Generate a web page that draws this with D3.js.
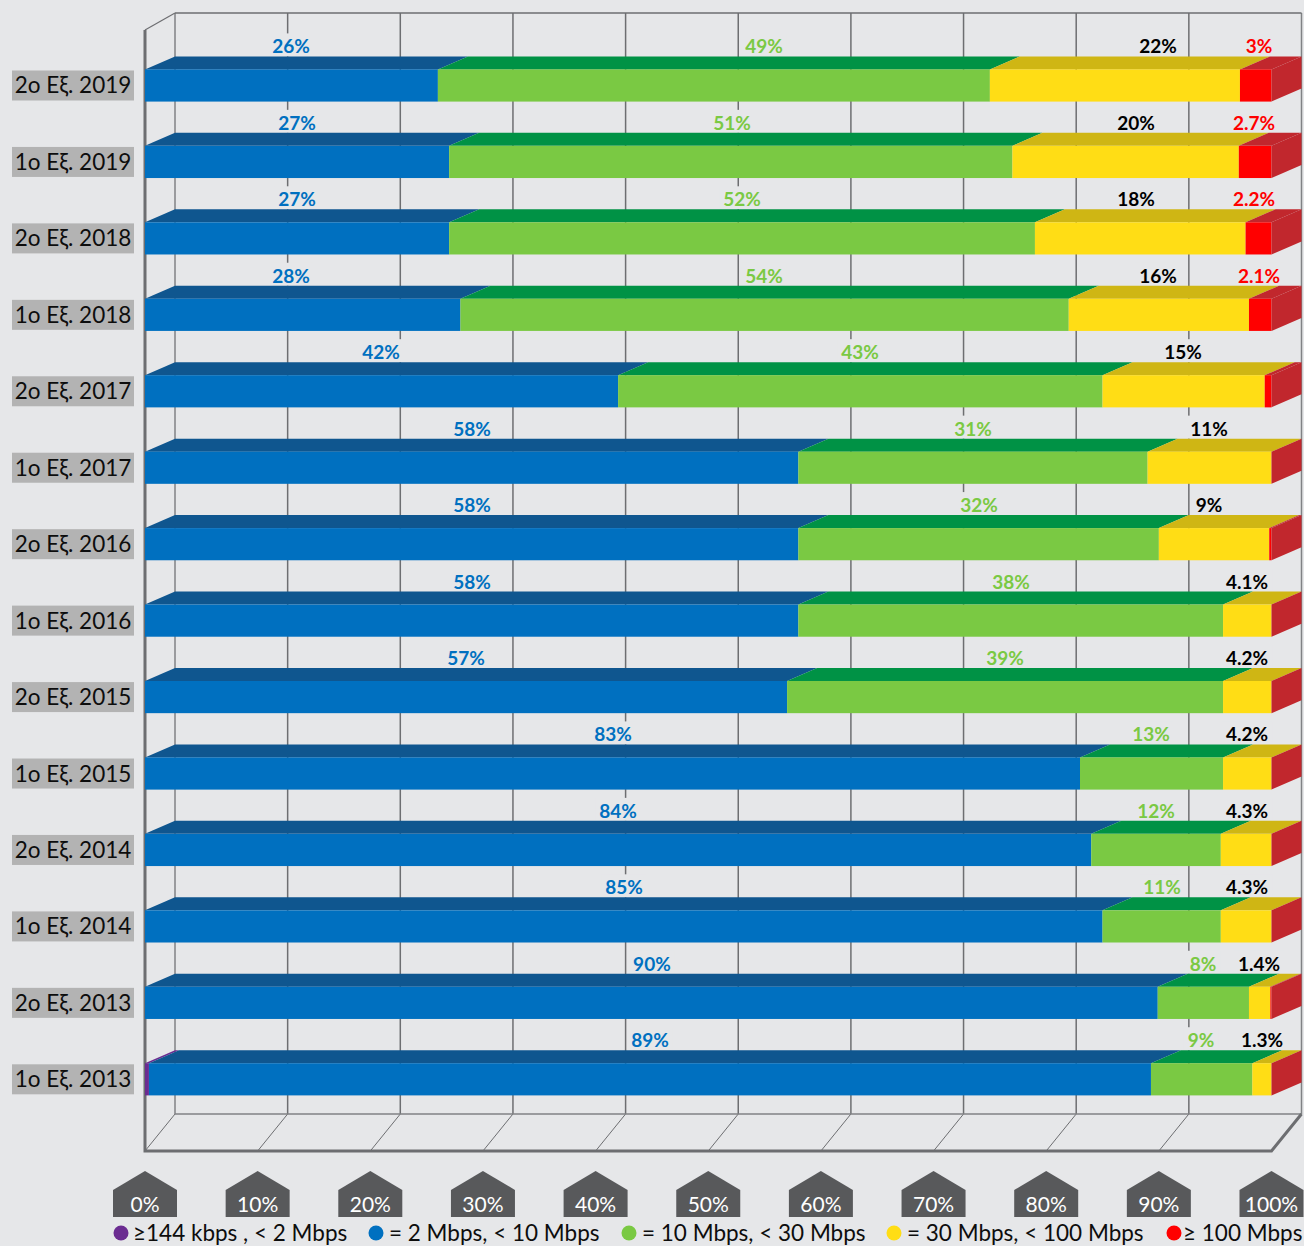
<!DOCTYPE html>
<html>
<head>
<meta charset="utf-8">
<script src="https://cdn.jsdelivr.net/npm/d3@7"></script>
<style>
  html, body { margin: 0; padding: 0; background: #e6e7e9; }
  svg { display: block; font-family: Lato, "Open Sans", sans-serif; }
</style>
</head>
<body>
<script>
// quarters, top row first
const quarters = ["2ο Εξ. 2019", "1ο Εξ. 2019", "2ο Εξ. 2018", "1ο Εξ. 2018", "2ο Εξ. 2017", "1ο Εξ. 2017", "2ο Εξ. 2016",
  "1ο Εξ. 2016", "2ο Εξ. 2015", "1ο Εξ. 2015", "2ο Εξ. 2014", "1ο Εξ. 2014", "2ο Εξ. 2013", "1ο Εξ. 2013"];

// share of lines per speed band
const purple = [0, 0, 0, 0, 0, 0, 0, 0, 0, 0, 0, 0, 0, 0.35];
const blue = [26, 27, 27, 28, 42, 58, 58, 58, 57, 83, 84, 85, 89.9, 88.95];
const green = [49, 50, 52, 54, 43, 31, 32, 37.7, 38.7, 12.7, 11.5, 10.5, 8.1, 9];
const yellow = [22.2, 20.1, 18.7, 16, 14.4, 11, 9.8, 4.3, 4.3, 4.3, 4.5, 4.5, 1.9, 1.7];
const red = [2.8, 2.9, 2.3, 2, 0.6, 0, 0.2, 0, 0, 0, 0, 0, 0.1, 0];

// printed labels
const blueLabels = ["26%", "27%", "27%", "28%", "42%", "58%", "58%", "58%", "57%", "83%", "84%", "85%", "90%", "89%"];
const greenLabels = ["49%", "51%", "52%", "54%", "43%", "31%", "32%", "38%", "39%", "13%", "12%", "11%", "8%", "9%"];
const yellowLabels = ["22%", "20%", "18%", "16%", "15%", "11%", "9%", "4.1%", "4.2%", "4.2%", "4.3%", "4.3%", "1.4%", "1.3%"];
const redLabels = ["3%", "2.7%", "2.2%", "2.1%", "", "", "", "", "", "", "", "", "", ""];

// where the labels sit along the percent axis, they were placed by hand in the original
const blueLabelAt = [12.96, 13.49, 13.49, 12.96, 20.95, 29.03, 29.03, 29.03, 28.5, 41.54, 41.99, 42.52, 45, 44.83];
const greenLabelAt = [54.95, 52.11, 53, 54.95, 63.47, 73.5, 74.03, 76.87, 76.34, 89.3, 89.75, 90.28, 93.92, 93.74];
const yellowLabelAt = [89.93, 87.97, 87.97, 89.93, 92.14, 94.45, 94.45, 97.83, 97.83, 97.83, 97.83, 97.83, 98.89, 99.16];
const redLabelAt = [98.89, 98.45, 98.45, 98.89, 0, 0, 0, 0, 0, 0, 0, 0, 0, 0];

const tickValues = [0, 10, 20, 30, 40, 50, 60, 70, 80, 90, 100];
const legendLabels = ["≥144 kbps , < 2 Mbps", "= 2 Mbps, < 10 Mbps", "= 10 Mbps, < 30 Mbps", "= 30 Mbps, < 100 Mbps", "≥ 100 Mbps"];

const seriesKeys = ["purple", "blue", "green", "yellow", "red"];
const frontColor = { purple: "#6b2c91", blue: "#0070c0", green: "#7ac943", yellow: "#ffdd15", red: "#ff0000" };
const topColor = { purple: "#6b2c91", blue: "#0f568f", green: "#009245", yellow: "#cfb614", red: "#c1272d" };
const labelColor = { blue: "#0070c0", green: "#7ac943", yellow: "#000000", red: "#ff0000" };

const width = 1304, height = 1246;
const depthX = 30, depthY = -13;
const plotTop = 13, plotBottom = 1151;

const svg = d3.select("body").append("svg")
  .attr("width", width)
  .attr("height", height);

const xScale = d3.scaleLinear().domain([0, 100]).range([145, 1271.5]);
const yScale = d3.scaleBand().domain(quarters).range([69.4, 1095.4]).paddingInner(0.579).paddingOuter(0);

const rows = quarters.map((q, i) => ({
  quarter: q, purple: purple[i], blue: blue[i], green: green[i], yellow: yellow[i], red: red[i]
}));
const stacked = d3.stack().keys(seriesKeys)(rows);

// the box behind the bars: walls and floor
const gridColor = "#6d6e71";
const grid = svg.append("g");
const backY0 = plotTop, backY1 = plotBottom + depthY * 37 / 13;

grid.selectAll("line.wall").data(tickValues).enter().append("line")
  .attr("x1", d => xScale(d) + depthX).attr("x2", d => xScale(d) + depthX)
  .attr("y1", backY0).attr("y2", backY1)
  .attr("stroke", d => d == 0 || d == 100 ? "#808285" : gridColor)
  .attr("stroke-width", 1.5);

grid.selectAll("line.floor").data(tickValues.slice(0, -1)).enter().append("line")
  .attr("x1", d => xScale(d) + depthX).attr("x2", d => xScale(d))
  .attr("y1", backY1).attr("y2", plotBottom)
  .attr("stroke", gridColor)
  .attr("stroke-width", 1);

grid.append("line")
  .attr("x1", xScale(0) + depthX).attr("x2", xScale(100) + depthX)
  .attr("y1", backY0).attr("y2", backY0)
  .attr("stroke", gridColor).attr("stroke-width", 1.5);
grid.append("line")
  .attr("x1", xScale(0) + depthX).attr("x2", xScale(100) + depthX)
  .attr("y1", backY1).attr("y2", backY1)
  .attr("stroke", "#808285").attr("stroke-width", 1.5);
grid.append("line")
  .attr("x1", xScale(0)).attr("x2", xScale(0) + depthX)
  .attr("y1", backY0 - depthY + 4).attr("y2", backY0)
  .attr("stroke", gridColor).attr("stroke-width", 1.2);
// heavy front edge
grid.append("polyline")
  .attr("points", [[xScale(0), backY0 - depthY + 4], [xScale(0), plotBottom], [xScale(100), plotBottom], [xScale(100) + depthX, backY1]].join(" "))
  .attr("fill", "none").attr("stroke", gridColor).attr("stroke-width", 3);

// labels go first so their background only cuts the grid, the bars stay on top
const labels = svg.append("g").attr("font-weight", 700).attr("font-size", 19);
const labelSets = [
  ["blue", blueLabels, blueLabelAt],
  ["green", greenLabels, greenLabelAt],
  ["yellow", yellowLabels, yellowLabelAt],
  ["red", redLabels, redLabelAt]
];
labelSets.forEach(([key, texts, at]) => {
  quarters.forEach((q, i) => {
    if (!texts[i]) return;
    const t = labels.append("text")
      .attr("x", xScale(at[i]))
      .attr("y", yScale(q) - 16)
      .attr("text-anchor", "middle")
      .attr("fill", labelColor[key])
      .text(texts[i]);
    const box = t.node().getBBox();
    labels.insert("rect", "text")
      .attr("x", box.x - 4).attr("y", yScale(q) - 36)
      .attr("width", box.width + 8).attr("height", 23)
      .attr("fill", "#e6e7e9");
  });
});

// bars, each segment is a front face and a top face
const bars = svg.append("g");
stacked.forEach(series => {
  series.forEach((d, i) => {
    if (d[1] - d[0] <= 0) return;
    const y = yScale(d.data.quarter), x0 = xScale(d[0]), x1 = xScale(d[1]);
    bars.append("polygon")
      .attr("points", [[x0, y], [x0 + depthX, y + depthY], [x1 + depthX, y + depthY], [x1, y]].join(" "))
      .attr("fill", topColor[series.key]);
    bars.append("rect")
      .attr("x", x0).attr("y", y)
      .attr("width", x1 - x0).attr("height", yScale.bandwidth())
      .attr("fill", frontColor[series.key]);
  });
});

// end cap of every bar is red, also where the red share is too small to see
bars.selectAll("polygon.side").data(quarters).enter().append("polygon")
  .attr("points", q => {
    const y = yScale(q), x = xScale(100), h = yScale.bandwidth();
    return [[x, y], [x + depthX, y + depthY], [x + depthX, y + depthY + h], [x, y + h]].join(" ");
  })
  .attr("fill", "#c1272d");

// quarter labels on grey boxes
const yLabels = svg.append("g").selectAll("g").data(quarters).enter().append("g")
  .attr("transform", q => `translate(0,${yScale(q) + yScale.bandwidth() / 2})`);
yLabels.append("rect")
  .attr("x", 12).attr("y", -15)
  .attr("width", 122).attr("height", 30)
  .attr("fill", "#b3b3b3");
yLabels.append("text")
  .attr("x", 73).attr("y", 8)
  .attr("text-anchor", "middle")
  .attr("font-size", 22.5)
  .attr("fill", "#0d0d0d")
  .text(q => q);

// percent ticks as little houses
const ticks = svg.append("g").selectAll("g").data(tickValues).enter().append("g")
  .attr("transform", d => `translate(${xScale(d)},0)`);
ticks.append("polygon")
  .attr("points", [[-32, 1190], [0, 1171], [32, 1190], [32, 1217], [-32, 1217]].join(" "))
  .attr("fill", "#58595b");
ticks.append("text")
  .attr("y", 1212)
  .attr("text-anchor", "middle")
  .attr("font-size", 21)
  .attr("fill", "#ffffff")
  .text(d => d + "%");

// legend
const legendX = [121, 376, 629, 894, 1174];
const legendTextDx = [12, 13, 13, 13, 9];
const legend = svg.append("g").selectAll("g").data(legendLabels).enter().append("g")
  .attr("transform", (d, i) => `translate(${legendX[i]},1233)`);
legend.append("circle")
  .attr("r", 7.5)
  .attr("fill", (d, i) => frontColor[seriesKeys[i]]);
legend.append("text")
  .attr("x", (d, i) => legendTextDx[i]).attr("y", 8)
  .attr("font-size", 22.5)
  .attr("fill", "#0d0d0d")
  .text(d => d);
</script>
</body>
</html>
